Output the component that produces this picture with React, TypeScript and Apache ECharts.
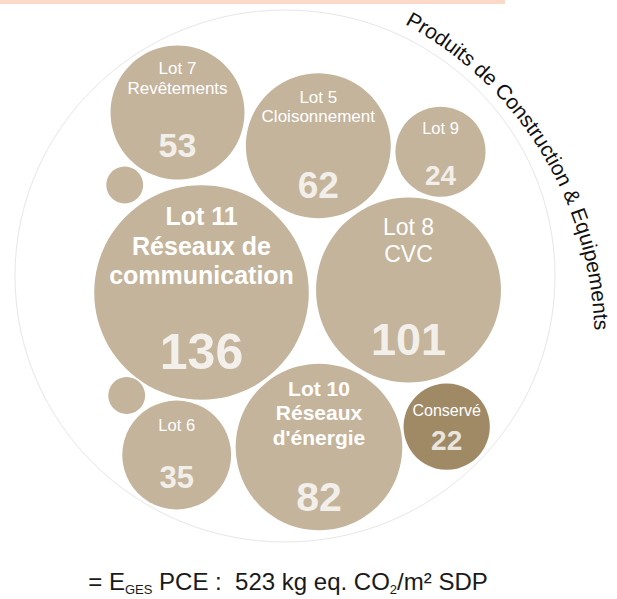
import React, { useEffect, useRef } from 'react';
import * as echarts from 'echarts';

const W = 617;
const H = 599;

// ---- data ----
const lotNames = [
  'Lot 7\nRevêtements',
  'Lot 5\nCloisonnement',
  'Lot 9',
  'Lot 11\nRéseaux de\ncommunication',
  'Lot 8\nCVC',
  "Lot 10\nRéseaux\nd'énergie",
  'Lot 6',
  'Conservé',
];
const lotValues = [53, 62, 24, 136, 101, 82, 35, 22];
const spacerValues = [4, 4];
const arcTitle = 'Produits de Construction & Equipements';
const totalValue = 523;

// ---- layout (packing centres) ----
const lotCenters = [
  [177.5, 112.5],
  [318.3, 145.8],
  [440.5, 151.7],
  [201.5, 292.5],
  [408.5, 290],
  [319, 447],
  [176.7, 455],
  [446.7, 426.7],
];
const spacerCenters = [
  [124.7, 185],
  [126.7, 395.5],
];

// ---- styles ----
const FONT = '"Liberation Sans", Arial, Helvetica, sans-serif';
const LIGHT = '#C4B49B';
const DARK = '#A08A66';
const K = 9.2; // radius per sqrt(value)
const lotStyles = [
  { nameSize: 17, nameWeight: 'normal', nameLH: 20, nameDy: -34.5, valueSize: 34, valueDy: 32.5, color: LIGHT },
  { nameSize: 17, nameWeight: 'normal', nameLH: 19, nameDy: -39.3, valueSize: 37, valueDy: 39.2, color: LIGHT },
  { nameSize: 16.5, nameWeight: 'normal', nameLH: 20, nameDy: -23.7, valueSize: 28, valueDy: 23.3, color: LIGHT },
  { nameSize: 25, nameWeight: 'bold', nameLH: 29.5, nameDy: -47, valueSize: 50, valueDy: 59.5, color: LIGHT },
  { nameSize: 23, nameWeight: 'normal', nameLH: 27, nameDy: -49.5, valueSize: 45, valueDy: 49, color: LIGHT },
  { nameSize: 21, nameWeight: 'bold', nameLH: 24.5, nameDy: -34.3, valueSize: 41, valueDy: 50, color: LIGHT },
  { nameSize: 16.5, nameWeight: 'normal', nameLH: 20, nameDy: -30, valueSize: 31, valueDy: 22, color: LIGHT },
  { nameSize: 16, nameWeight: 'normal', nameLH: 20, nameDy: -16.7, valueSize: 28, valueDy: 13.3, color: DARK },
];

const ARC = { cx: 235, cy: 341, r: 367, a0: 29.3, a1: 87.5, font: `21px ${FONT}` };

function buildArcText(): any[] {
  const canvas = document.createElement('canvas');
  const ctx = canvas.getContext('2d');
  const chars = Array.from(arcTitle);
  let widths = chars.map(() => 10);
  if (ctx) {
    ctx.font = ARC.font;
    widths = chars.map((c) => ctx.measureText(c).width);
  }
  const mids: number[] = [];
  let acc = 0;
  widths.forEach((w) => {
    mids.push(acc + w / 2);
    acc += w;
  });
  const a0 = (ARC.a0 * Math.PI) / 180;
  const a1 = (ARC.a1 * Math.PI) / 180;
  const m0 = mids[0];
  const m1 = mids[mids.length - 1];
  return chars.map((c, i) => {
    const phi = a0 + ((mids[i] - m0) / (m1 - m0)) * (a1 - a0);
    return {
      type: 'text',
      x: ARC.cx + ARC.r * Math.sin(phi),
      y: ARC.cy - ARC.r * Math.cos(phi),
      rotation: -phi,
      silent: true,
      style: {
        text: c,
        font: ARC.font,
        fill: '#111111',
        align: 'center',
        verticalAlign: 'middle',
      },
    };
  });
}

export default function App() {
  const ref = useRef<HTMLDivElement>(null);

  useEffect(() => {
    if (!ref.current) return;
    const chart = echarts.init(ref.current, undefined, { renderer: 'svg', width: W, height: H });

    const bubbleData = lotNames.map((n, i) => ({
      name: n,
      value: [lotCenters[i][0], lotCenters[i][1], lotValues[i]],
      itemStyle: { color: lotStyles[i].color, opacity: 1 },
      label: {
        show: true,
        position: 'inside',
        formatter: n,
        offset: [0, lotStyles[i].nameDy],
        color: '#ffffff',
        fontFamily: FONT,
        fontSize: lotStyles[i].nameSize,
        fontWeight: lotStyles[i].nameWeight,
        lineHeight: lotStyles[i].nameLH,
        align: 'center',
        verticalAlign: 'middle',
      },
    }));
    const spacerData = spacerValues.map((v, i) => ({
      name: '',
      value: [spacerCenters[i][0], spacerCenters[i][1], v],
      itemStyle: { color: LIGHT, opacity: 1 },
      label: { show: false },
    }));
    const valueData = lotValues.map((v, i) => ({
      name: lotNames[i],
      value: [lotCenters[i][0], lotCenters[i][1], v],
      label: {
        show: true,
        position: 'inside',
        formatter: String(v),
        offset: [0, lotStyles[i].valueDy],
        color: '#ffffff',
        fontFamily: FONT,
        fontSize: lotStyles[i].valueSize,
        fontWeight: 'bold',
        align: 'center',
        verticalAlign: 'middle',
      },
    }));

    const option: any = {
      animation: false,
      backgroundColor: '#ffffff',
      grid: { left: 0, right: 0, top: 0, bottom: 0 },
      xAxis: { type: 'value', min: 0, max: W, show: false },
      yAxis: { type: 'value', min: 0, max: H, inverse: true, show: false },
      graphic: [
        {
          type: 'rect',
          silent: true,
          shape: { x: 0, y: 0, width: 505, height: 4 },
          style: { fill: '#FBD8C7' },
        },
        {
          type: 'ellipse',
          silent: true,
          z: -1,
          shape: { cx: 285, cy: 276, rx: 270, ry: 266 },
          style: { fill: 'none', stroke: '#E6E6E6', lineWidth: 1 },
        },
        ...buildArcText(),
        {
          type: 'text',
          x: 288,
          y: 581,
          silent: true,
          style: {
            text: `{m|= E}{s|GES}{m| PCE :  ${totalValue} kg eq. CO}{s|2}{m|/m² SDP}`,
            align: 'center',
            verticalAlign: 'middle',
            rich: {
              m: { fontFamily: FONT, fontSize: 24, fill: '#1a1a1a', color: '#1a1a1a' },
              s: { fontFamily: FONT, fontSize: 13, fill: '#1a1a1a', color: '#1a1a1a', padding: [16, 0, 0, 0] },
            },
          },
        },
      ],
      series: [
        {
          type: 'scatter',
          name: 'lots',
          symbol: 'circle',
          symbolSize: (val: number[]) => 2 * K * Math.sqrt(val[2]),
          itemStyle: { opacity: 1 },
          data: [...bubbleData, ...spacerData],
          emphasis: { disabled: true },
          z: 2,
        },
        {
          type: 'scatter',
          name: 'values',
          symbol: 'circle',
          symbolSize: 1,
          itemStyle: { color: 'rgba(0,0,0,0)' },
          data: valueData,
          emphasis: { disabled: true },
          z: 3,
        },
      ],
    };
    chart.setOption(option);
    return () => chart.dispose();
  }, []);

  return (
    <div
      ref={ref}
      style={{ position: 'fixed', left: 0, top: 0, width: W, height: H, background: '#fff' }}
    />
  );
}
